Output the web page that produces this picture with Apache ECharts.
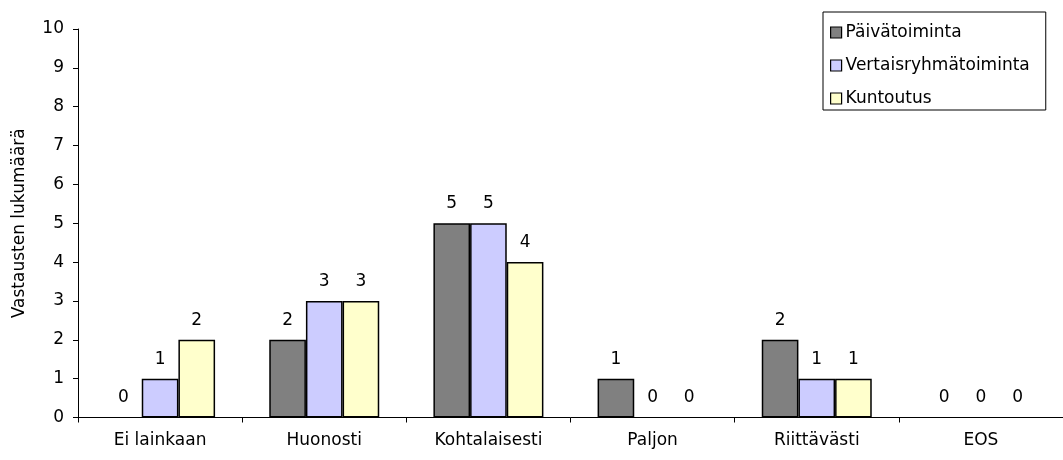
<!DOCTYPE html>
<html>
<head>
<meta charset="utf-8">
<script src="https://cdn.jsdelivr.net/npm/echarts@6/dist/echarts.min.js"></script>
<style>
  html, body { margin: 0; padding: 0; background: #fff; }
  #chart { width: 1063px; height: 460px; }
</style>
</head>
<body>
<div id="chart"></div>
<script>
// Answer categories along the x axis
const categories = ['Ei lainkaan', 'Huonosti', 'Kohtalaisesti', 'Paljon', 'Riittävästi', 'EOS'];

// Response counts per activity type
const paivatoiminta = [0, 2, 5, 1, 2, 0];
const vertaisryhmatoiminta = [1, 3, 5, 0, 1, 0];
const kuntoutus = [2, 3, 4, 0, 1, 0];

const seriesNames = ['Päivätoiminta', 'Vertaisryhmätoiminta', 'Kuntoutus'];
const seriesColors = ['#808080', '#CCCCFF', '#FFFFCC'];
const seriesData = [paivatoiminta, vertaisryhmatoiminta, kuntoutus];

const yTicks = { min: 0, max: 10, interval: 1 };
const FONT = 'DejaVu Sans';
const FS = 17;

// Zero-height bars keep their value label but draw no outline on the baseline
function barData(values) {
  return values.map(v => v === 0 ? { value: v, itemStyle: { borderWidth: 0 } } : v);
}

const chart = echarts.init(document.getElementById('chart'), null, { renderer: 'canvas' });

chart.setOption({
  animation: false,
  backgroundColor: '#ffffff',
  textStyle: { fontFamily: FONT, color: '#000' },
  legend: {
    orient: 'vertical',
    left: 823,
    top: 12,
    width: 222,
    padding: [12, 16, 3, 7],
    itemGap: 16,
    itemWidth: 11,
    itemHeight: 11,
    borderColor: '#000',
    borderWidth: 1,
    backgroundColor: '#fff',
    itemStyle: { borderColor: '#000', borderWidth: 1.2 },
    textStyle: { fontFamily: FONT, fontSize: FS, color: '#000', padding: [0, 0, 0, -1] },
    data: seriesNames.map(n => ({ name: n, icon: 'rect' }))
  },
  grid: { left: 78, top: 29, width: 988, height: 388.5, containLabel: false },
  xAxis: {
    type: 'category',
    data: categories,
    axisLine: { lineStyle: { color: '#000', width: 1 } },
    axisTick: { show: true, alignWithLabel: false, length: 5, lineStyle: { color: '#000' } },
    axisLabel: { fontFamily: FONT, fontSize: FS, color: '#000', margin: 15 }
  },
  yAxis: {
    type: 'value',
    min: yTicks.min,
    max: yTicks.max,
    interval: yTicks.interval,
    name: 'Vastausten lukumäärä',
    nameLocation: 'middle',
    nameGap: 50,
    nameTextStyle: { fontFamily: FONT, fontSize: FS, color: '#000' },
    axisLine: { show: true, lineStyle: { color: '#000', width: 1 } },
    axisTick: { show: true, length: 5, lineStyle: { color: '#000' } },
    splitLine: { show: false },
    axisLabel: { fontFamily: FONT, fontSize: FS, color: '#000', margin: 14 }
  },
  series: seriesNames.map((name, i) => ({
    name: name,
    type: 'bar',
    data: barData(seriesData[i]),
    barGap: '0%',
    barCategoryGap: '33%',
    itemStyle: { color: seriesColors[i], borderColor: '#000', borderWidth: 1.5 },
    label: {
      show: true,
      position: 'top',
      distance: 11,
      fontFamily: FONT,
      fontSize: FS,
      color: '#000'
    }
  }))
});
</script>
</body>
</html>
